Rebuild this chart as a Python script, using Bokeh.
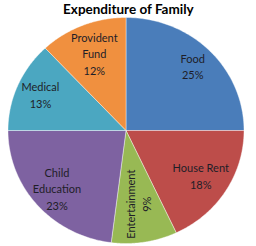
import numpy as np
from bokeh.plotting import figure
from bokeh.models import Range1d
from bokeh.core.properties import value
from bokeh.embed import file_html
from bokeh.resources import INLINE

# ---- data ----
categories = ["Food", "House Rent", "Entertainment", "Child Education", "Medical", "Provident Fund"]
label_text = ["Food", "House Rent", "Entertainment", "Child\nEducation", "Medical", "Provident\nFund"]
percent = [25, 18, 9, 23, 13, 12]
colors = ["#4A7DBA", "#BD4D4A", "#98B954", "#7E62A1", "#4BA7C1", "#F0903F"]

# ---- layout ----
W, H = 256, 246
cx, cy = 125.5, H - 130.0
rx, ry = 118.0, 113.0
label_frac = [0.80, 0.75, 0.66, 0.78, 0.79, 0.73]

p = figure(width=W, height=H, output_backend="svg", toolbar_location=None,
           x_range=Range1d(0, W), y_range=Range1d(0, H), min_border=0,
           background_fill_color="white", border_fill_color="white")
p.outline_line_color = None
p.axis.visible = False
p.grid.visible = False

total = float(sum(percent))
cum = np.concatenate([[0.0], np.cumsum(percent) / total])
xs, ys, lx, ly = [], [], [], []
for i in range(len(percent)):
    a0 = np.pi / 2 - 2 * np.pi * cum[i]
    a1 = np.pi / 2 - 2 * np.pi * cum[i + 1]
    t = np.linspace(a0, a1, 80)
    xs.append([cx] + list(cx + rx * np.cos(t)))
    ys.append([cy] + list(cy + ry * np.sin(t)))
    am = (a0 + a1) / 2
    lx.append(cx + label_frac[i] * rx * np.cos(am))
    ly.append(cy + label_frac[i] * ry * np.sin(am))

p.patches(xs, ys, fill_color=colors, line_color="white", line_width=0.8, line_alpha=0.5)

texts = [f"{l}\n{v}%" for l, v in zip(label_text, percent)]
angles = [0, 0, np.pi / 2, 0, 0, 0]
p.text(x=lx, y=ly, text=texts, angle=angles, text_align="center", text_baseline="middle",
       text_font=value("Lato"), text_font_size="11px", text_color="#1E1E28",
       text_line_height=1.25)

p.text(x=[W / 2], y=[H - 8], text=["Expenditure of Family"], text_align="center",
       text_baseline="middle", text_font=value("Lato"), text_font_size="13.5px",
       text_font_style="bold", text_color="#000000")

open("out.html", "w").write(file_html(p, INLINE))
